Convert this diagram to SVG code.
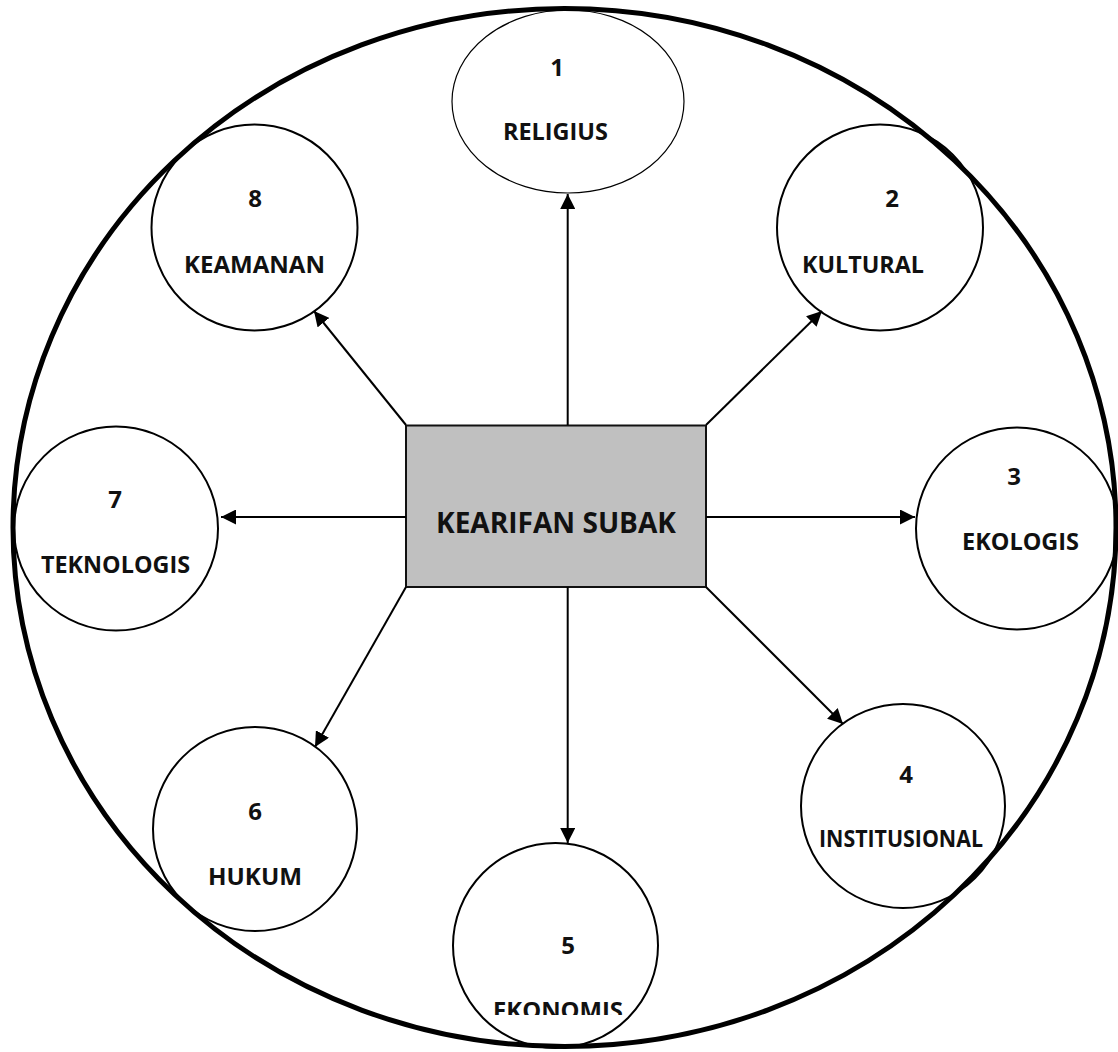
<svg xmlns="http://www.w3.org/2000/svg" width="1118" height="1052" viewBox="0 0 1118 1052">
<style>
.node{fill:#fff;stroke:#000;stroke-width:2}
.lbl{font-family:"Open Sans","Liberation Sans",sans-serif;font-weight:bold;font-size:24px;fill:#111;text-anchor:middle}
.conn{stroke:#000;stroke-width:2;fill:none;marker-end:url(#arr)}
</style>
<defs>
<marker id="arr" viewBox="0 0 10 10" refX="10" refY="5" markerUnits="userSpaceOnUse" markerWidth="15" markerHeight="15" orient="auto">
<path d="M0,0 L10,5 L0,10 z" fill="#000"/>
</marker>
<clipPath id="clip5"><rect x="440" y="840" width="240" height="175"/></clipPath>
</defs>
<rect width="1118" height="1052" fill="#fff"/>

<g id="n1">
<ellipse cx="568" cy="101.5" rx="116" ry="91.5" fill="#fff" stroke="#000" stroke-width="1.2"/>
<text class="lbl" x="557" y="76">1</text>
<text class="lbl" x="555.5" y="140" textLength="105" lengthAdjust="spacingAndGlyphs">RELIGIUS</text>
</g>
<g id="n2">
<circle class="node" cx="880" cy="227.5" r="103"/>
<text class="lbl" x="892" y="207">2</text>
<text class="lbl" x="863" y="273" textLength="122" lengthAdjust="spacingAndGlyphs">KULTURAL</text>
</g>
<g id="n3">
<circle class="node" cx="1017" cy="528.5" r="101"/>
<text class="lbl" x="1014" y="485">3</text>
<text class="lbl" x="1020.5" y="550" textLength="117" lengthAdjust="spacingAndGlyphs">EKOLOGIS</text>
</g>
<g id="n4">
<circle class="node" cx="903" cy="806" r="102"/>
<text class="lbl" x="906" y="783">4</text>
<text class="lbl" x="901" y="847" textLength="164" lengthAdjust="spacingAndGlyphs">INSTITUSIONAL</text>
</g>
<g id="n5">
<circle class="node" cx="555.5" cy="945.5" r="102.5"/>
<text class="lbl" x="568" y="954">5</text>
<text class="lbl" x="558" y="1019" textLength="130" lengthAdjust="spacingAndGlyphs" clip-path="url(#clip5)">EKONOMIS</text>
</g>
<g id="n6">
<circle class="node" cx="255" cy="829" r="102"/>
<text class="lbl" x="255" y="820">6</text>
<text class="lbl" x="255" y="885" textLength="94" lengthAdjust="spacingAndGlyphs">HUKUM</text>
</g>
<g id="n7">
<circle class="node" cx="116" cy="528.5" r="102"/>
<text class="lbl" x="115" y="508">7</text>
<text class="lbl" x="115.5" y="573" textLength="149" lengthAdjust="spacingAndGlyphs">TEKNOLOGIS</text>
</g>
<g id="n8">
<circle class="node" cx="254.5" cy="227.5" r="103"/>
<text class="lbl" x="255" y="207">8</text>
<text class="lbl" x="254.5" y="273" textLength="141" lengthAdjust="spacingAndGlyphs">KEAMANAN</text>
</g>

<g id="center">
<rect x="406" y="425.5" width="300" height="161.5" fill="#c0c0c0" stroke="#111" stroke-width="2"/>
<text x="556" y="533" font-family="Open Sans, Liberation Sans, sans-serif" font-weight="bold" font-size="29" fill="#111" text-anchor="middle" textLength="240" lengthAdjust="spacingAndGlyphs">KEARIFAN SUBAK</text>
</g>

<g id="connectors">
<line class="conn" x1="567.7" y1="425" x2="567.7" y2="194"/>
<line class="conn" x1="706" y1="425" x2="822" y2="311"/>
<line class="conn" x1="706" y1="517" x2="915" y2="517"/>
<line class="conn" x1="706" y1="587" x2="843" y2="724"/>
<line class="conn" x1="567.7" y1="587" x2="567.7" y2="843"/>
<line class="conn" x1="406" y1="587" x2="315" y2="747"/>
<line class="conn" x1="406" y1="517" x2="221" y2="517"/>
<line class="conn" x1="406" y1="425" x2="314" y2="311"/>
</g>

<g id="outer">
<ellipse cx="564.5" cy="527.5" rx="551.5" ry="519" fill="none" stroke="#000" stroke-width="5"/>
</g>
</svg>
